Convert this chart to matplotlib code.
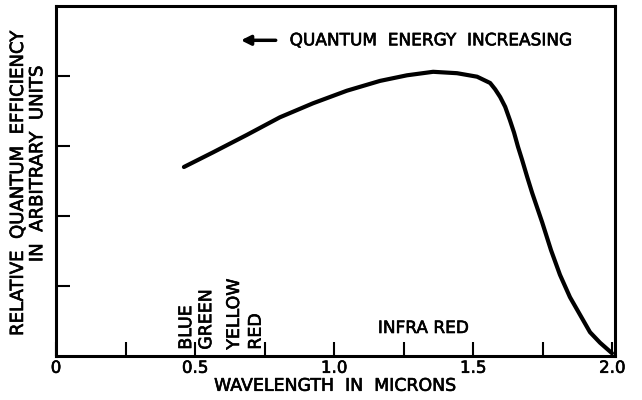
import matplotlib.pyplot as plt
import matplotlib.patheffects as pe

# curve (wavelength in microns, relative efficiency)
wavelength = [0.460, 0.565, 0.687, 0.805, 0.924, 1.046, 1.165, 1.262, 1.356,
              1.442, 1.514, 1.561, 1.579, 1.597, 1.615, 1.632, 1.647, 1.661,
              1.676, 1.694, 1.712, 1.748, 1.780, 1.812, 1.848, 1.884, 1.920,
              1.956, 1.999]
efficiency = [2.70, 2.91, 3.16, 3.41, 3.61, 3.79, 3.93, 4.01, 4.06,
              4.04, 3.99, 3.90, 3.81, 3.70, 3.56, 3.37, 3.19, 2.99,
              2.80, 2.56, 2.33, 1.91, 1.51, 1.16, 0.84, 0.59, 0.34,
              0.19, 0.04]

x_ticks = [0, 0.25, 0.5, 0.75, 1.0, 1.25, 1.5, 1.75, 2.0]
x_tick_labels = ["0", "", "0.5", "", "1.0", "", "1.5", "", "2.0"]
y_ticks = [1, 2, 3, 4]

bands = ["BLUE", "GREEN", "YELLOW", "RED"]
band_x = [0.468, 0.540, 0.640, 0.718]

plt.rcParams['font.family'] = ['DejaVu Sans']
ink = [pe.withStroke(linewidth=0.45, foreground="black")]

fig = plt.figure(figsize=(6.42, 4.0), dpi=100)
ax = fig.add_axes([0.0872, 0.11, 0.8708, 0.875])

ax.plot(wavelength, efficiency, color="black", lw=3,
        solid_capstyle="round", solid_joinstyle="round")

ax.set_xlim(0, 2.01)
ax.set_ylim(0, 5)
ax.set_xticks(x_ticks)
ax.set_xticklabels(x_tick_labels, fontsize=12)
for t in ax.get_xticklabels():
    t.set_path_effects(ink)
ax.set_yticks(y_ticks)
ax.set_yticklabels([])
ax.tick_params(direction="in", length=10, width=1.5, pad=2)
for s in ax.spines.values():
    s.set_linewidth(2.2)

ax.set_xlabel("WAVELENGTH  IN  MICRONS", fontsize=12.5, labelpad=0,
              path_effects=ink)

fig.text(0.028, 0.54, "RELATIVE  QUANTUM  EFFICIENCY", rotation=90,
         ha="center", va="center", fontsize=13, path_effects=ink)
fig.text(0.058, 0.59, "IN  ARBITRARY  UNITS", rotation=90,
         ha="center", va="center", fontsize=13, path_effects=ink)

for name, x in zip(bands, band_x):
    ax.text(x, 0.09, name, rotation=90, ha="center", va="bottom",
            fontsize=12.5, path_effects=ink)

ax.text(1.32, 0.4, "INFRA RED", ha="center", va="center", fontsize=12.2,
        path_effects=ink)

ax.annotate("", xy=(0.655, 4.51), xytext=(0.80, 4.51),
            arrowprops=dict(arrowstyle="-|>", color="black", lw=2.5,
                            mutation_scale=14))
ax.text(0.84, 4.51, "QUANTUM  ENERGY  INCREASING", ha="left", va="center",
        fontsize=12.2, path_effects=ink)

fig.savefig("out.png", dpi=100)
